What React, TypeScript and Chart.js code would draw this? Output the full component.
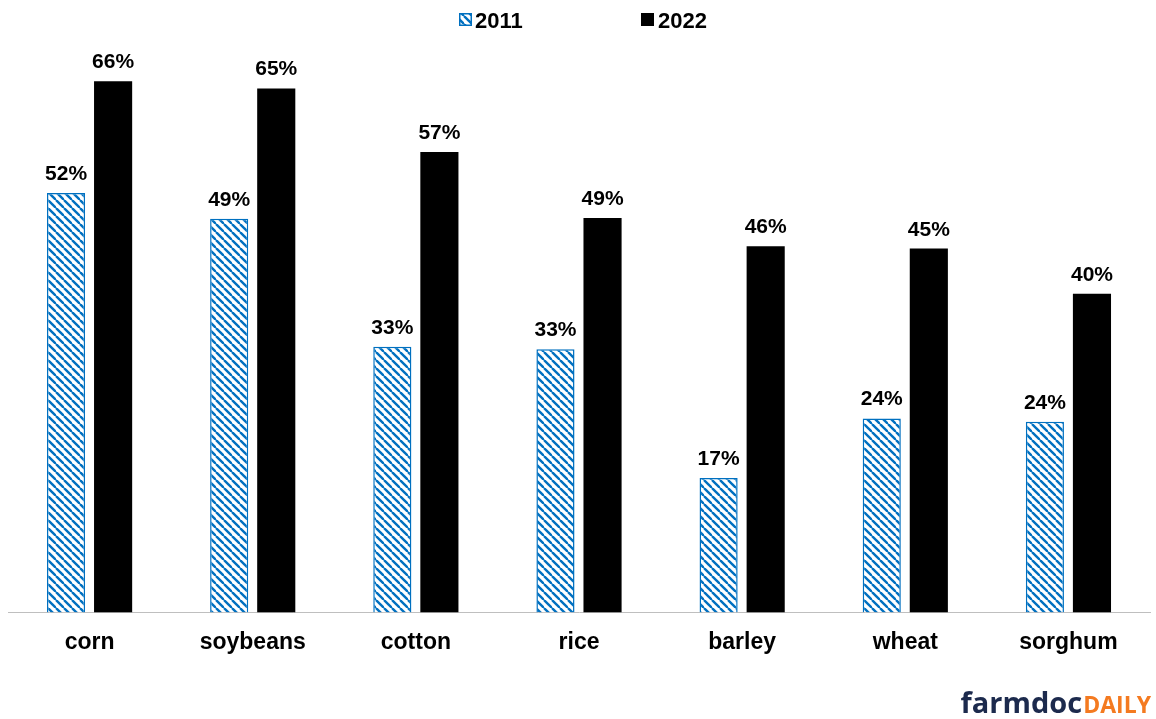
import React, { useEffect, useRef } from "react";
import { Chart, registerables } from "chart.js";

Chart.register(...registerables);

const categories = ["corn", "soybeans", "cotton", "rice", "barley", "wheat", "sorghum"];
const series2011 = [52.1, 48.9, 33.0, 32.7, 16.7, 24.1, 23.7];
const series2022 = [66.0, 65.1, 57.2, 49.0, 45.5, 45.2, 39.6];
const seriesNames = ["2011", "2022"];

const BLUE = "#0070C0";
const FONT = "'Liberation Sans', Arial, sans-serif";

function makeHatch(): CanvasPattern | string {
  const s = 8;
  const c = document.createElement("canvas");
  c.width = s;
  c.height = s;
  const ctx = c.getContext("2d");
  if (!ctx) return BLUE;
  ctx.fillStyle = "#ffffff";
  ctx.fillRect(0, 0, s, s);
  ctx.strokeStyle = BLUE;
  ctx.lineWidth = 2.4;
  for (const x of [-s, 0, s]) {
    ctx.beginPath();
    ctx.moveTo(x, 0);
    ctx.lineTo(x + s, s);
    ctx.stroke();
  }
  const p = ctx.createPattern(c, "repeat");
  return p || BLUE;
}

export default function App() {
  const ref = useRef<HTMLCanvasElement | null>(null);

  useEffect(() => {
    if (!ref.current) return;
    const hatch = makeHatch();

    const labelPlugin = {
      id: "valueLabels",
      afterDatasetsDraw(chart: any) {
        const ctx = chart.ctx;
        ctx.save();
        ctx.font = `bold 21px ${FONT}`;
        ctx.fillStyle = "#000";
        ctx.textAlign = "center";
        ctx.textBaseline = "alphabetic";
        chart.data.datasets.forEach((ds: any, i: number) => {
          const meta = chart.getDatasetMeta(i);
          meta.data.forEach((el: any, j: number) => {
            ctx.fillText(Math.round(ds.data[j]) + "%", el.x, el.y - 13);
          });
        });
        ctx.restore();
      },
      afterDraw(chart: any) {
        const ctx = chart.ctx;
        ctx.save();
        // legend
        ctx.fillStyle = hatch as any;
        ctx.fillRect(459, 13, 13, 13);
        ctx.strokeStyle = BLUE;
        ctx.lineWidth = 1.5;
        ctx.strokeRect(459.75, 13.75, 11.5, 11.5);
        ctx.fillStyle = "#000";
        ctx.fillRect(641, 13, 13, 13);
        ctx.font = `bold 22px ${FONT}`;
        ctx.textAlign = "left";
        ctx.textBaseline = "alphabetic";
        ctx.fillText(seriesNames[0], 475, 28);
        ctx.fillText(seriesNames[1], 658, 28);
        // logo
        ctx.textAlign = "right";
        ctx.font = `bold 23px 'Open Sans', sans-serif`;
        ctx.fillStyle = "#F47A20";
        ctx.fillText("DAILY", 1151, 713);
        const w = ctx.measureText("DAILY").width;
        ctx.font = `bold 29px 'Open Sans', sans-serif`;
        ctx.fillStyle = "#1C2A4D";
        ctx.fillText("farmdoc", 1151 - w - 1, 713);
        ctx.restore();
      },
    };

    const chart = new Chart(ref.current, {
      type: "bar",
      data: {
        labels: categories,
        datasets: [
          {
            label: seriesNames[0],
            data: series2011,
            backgroundColor: hatch as any,
            borderColor: BLUE,
            borderWidth: 1.5,
            barPercentage: 0.81,
            categoryPercentage: 0.577,
          },
          {
            label: seriesNames[1],
            data: series2022,
            backgroundColor: "#000000",
            borderWidth: 0,
            barPercentage: 0.81,
            categoryPercentage: 0.577,
          },
        ],
      },
      options: {
        responsive: false,
        animation: false,
        layout: { padding: { left: 8, right: 6, top: 49, bottom: 47 } },
        plugins: {
          legend: { display: false },
          tooltip: { enabled: false },
        },
        scales: {
          x: {
            grid: { display: false, drawTicks: false },
            border: { display: true, color: "#BFBFBF", width: 1 },
            ticks: {
              color: "#000",
              padding: 16,
              font: { family: FONT, size: 23, weight: "bold" },
            },
          },
          y: {
            display: false,
            min: 0,
            max: 70,
          },
        },
      },
      plugins: [labelPlugin],
    });
    return () => chart.destroy();
  }, []);

  return (
    <div style={{ position: "fixed", left: 0, top: 0, width: 1156, height: 719, background: "#fff" }}>
      <canvas ref={ref} width={1156} height={719} style={{ display: "block" }} />
    </div>
  );
}
